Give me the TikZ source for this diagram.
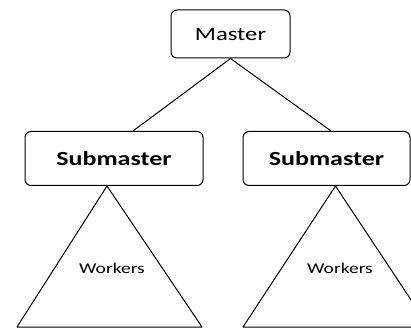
\documentclass[tikz,border=0pt]{standalone}
\usepackage{fontspec}
\newfontfamily\diagfont[FakeStretch=1.3]{Carlito}
\begin{document}
\begin{tikzpicture}[x=1pt, y=-1pt, line width=1pt, line join=round,
	box/.style={draw, rounded corners=6pt, inner sep=0pt, minimum height=54pt},
	lbl/.style={font=\diagfont\fontsize{15}{15}\selectfont}]
	\useasboundingbox (0,0) rectangle (411,328);

	% Draw the boxes
	\node[box, minimum width=119pt, minimum height=48pt, font=\diagfont\fontsize{19}{19}\selectfont] (master) at (230.5,34) {Master};
	\node[box, minimum width=178pt, font=\diagfont\bfseries\fontsize{20}{20}\selectfont] (subL) at (114,158.5) {Submaster};
	\node[box, minimum width=167pt, font=\diagfont\bfseries\fontsize{20}{20}\selectfont] (subR) at (326.5,158.5) {Submaster};

	% Draw the lines from the master
	\draw (master.south) -- ([xshift=19pt]subL.north);
	\draw (master.south) -- ([xshift=4.5pt]subR.north);

	% Draw the worker triangles
	\coordinate (apexL) at ([xshift=-7pt]subL.south);
	\coordinate (apexR) at ([xshift=9pt]subR.south);
	\draw (apexL) -- (17,327) -- (202,327) -- cycle;
	\draw (apexR) -- (243,327) -- (429,327) -- cycle;

	\node[lbl] (workL) at (112,268) {Workers};
	\node[lbl] (workR) at (340,268) {Workers};

\end{tikzpicture}
\end{document}
